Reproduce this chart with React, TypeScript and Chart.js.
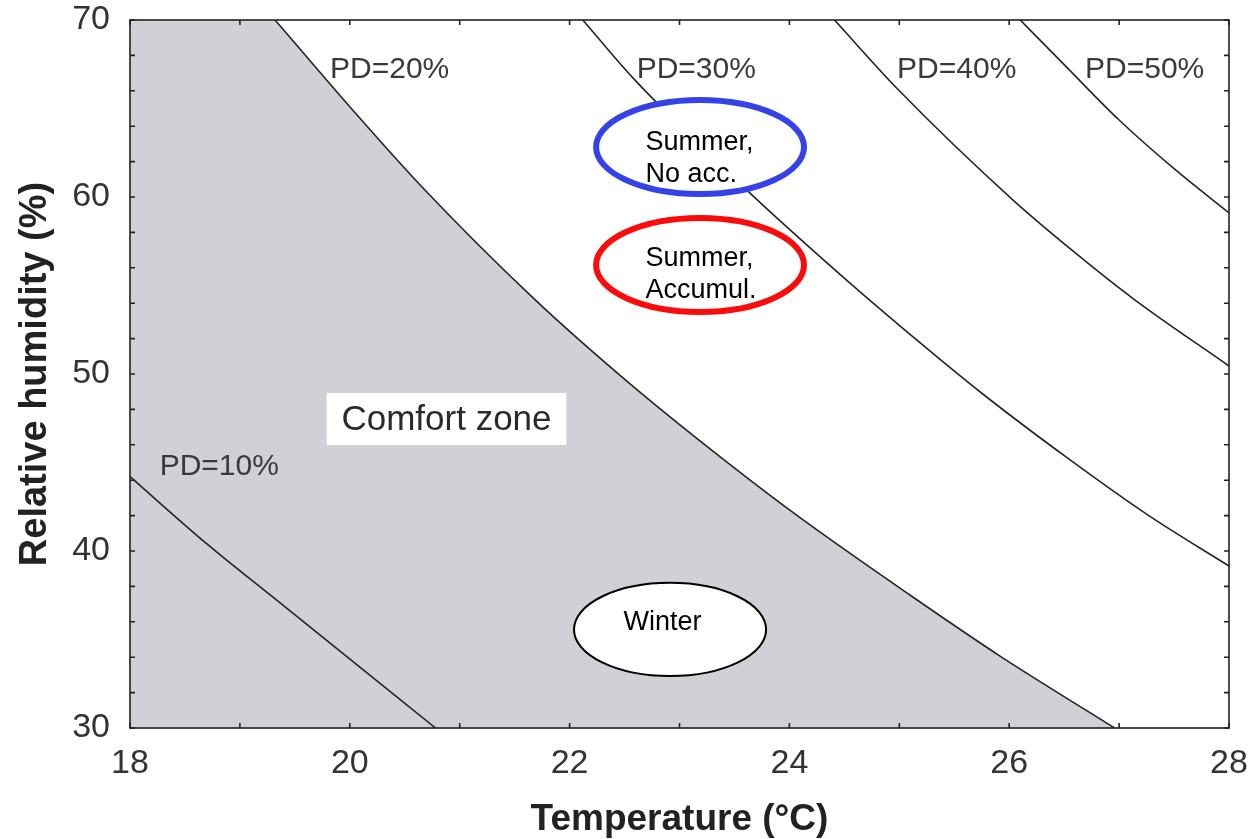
import React, { useEffect, useRef } from 'react';
import { Chart, registerables } from 'chart.js';

Chart.register(...registerables);

const FONT = "'Liberation Sans', Arial, Helvetica, sans-serif";

// Axis ticks (labels every 2 °C / 10 %, minor marks every 1 °C / 2 %)
const xTickValues = [18, 19, 20, 21, 22, 23, 24, 25, 26, 27, 28];
const yTickValues = [30, 32, 34, 36, 38, 40, 42, 44, 46, 48, 50, 52, 54, 56, 58, 60, 62, 64, 66, 68, 70];

// Iso-PD curves: temperature (°C) and relative humidity (%)
const pd10Temp = [18.0, 18.7, 19.4, 20.1, 20.78];
const pd10RH = [44.2, 40.4, 36.9, 33.4, 30.0];

const pd20Temp = [19.32, 20.0, 20.64, 21.67, 22.58, 23.49, 24.1, 25.1, 25.92, 26.96];
const pd20RH = [70.0, 65.1, 60.68, 54.29, 49.29, 44.74, 41.87, 37.5, 34.05, 30.0];

const pd30Temp = [22.12, 22.58, 23.61, 24.52, 25.0, 25.76, 26.52, 27.26, 28.0];
const pd30RH = [70.0, 66.7, 60.4, 55.3, 52.75, 48.87, 45.3, 42.04, 39.15];

const pd40Temp = [24.41, 25.0, 26.04, 26.61, 27.13, 28.0];
const pd40RH = [70.0, 66.0, 59.8, 56.8, 54.25, 50.45];

const pd50Temp = [26.1, 26.52, 27.0, 27.5, 28.0];
const pd50RH = [70.0, 67.35, 64.35, 61.6, 59.1];

// Text annotations (data coordinates)
const pdLabelText = ['PD=10%', 'PD=20%', 'PD=30%', 'PD=40%', 'PD=50%'];
const pdLabelTemp = [18.27, 19.82, 22.61, 24.98, 26.69];
const pdLabelRH = [44.75, 67.2, 67.2, 67.2, 67.2];

const GREY = 'rgb(207,209,215)';
const LINE = '#242424';

const pts = (xs: number[], ys: number[]) => xs.map((x, i) => ({ x, y: ys[i] }));

const annotationPlugin = {
  id: 'annotations',
  afterDatasetsDraw(chart: any) {
    const { ctx, chartArea: a, scales } = chart;
    const sx = scales.x;
    const sy = scales.y;
    const X = (v: number) => sx.getPixelForValue(v);
    const Y = (v: number) => sy.getPixelForValue(v);
    ctx.save();

    // Frame with inward ticks on all four sides
    ctx.strokeStyle = '#222';
    ctx.lineWidth = 1.6;
    ctx.strokeRect(a.left, a.top, a.right - a.left, a.bottom - a.top);
    const tl = 5;
    ctx.beginPath();
    xTickValues.forEach((v) => {
      const px = X(v);
      ctx.moveTo(px, a.bottom);
      ctx.lineTo(px, a.bottom - tl);
      ctx.moveTo(px, a.top);
      ctx.lineTo(px, a.top + tl);
    });
    yTickValues.forEach((v) => {
      const py = Y(v);
      ctx.moveTo(a.left, py);
      ctx.lineTo(a.left + tl, py);
      ctx.moveTo(a.right, py);
      ctx.lineTo(a.right - tl, py);
    });
    ctx.stroke();

    // PD labels
    ctx.fillStyle = '#3a3a3a';
    ctx.font = `30px ${FONT}`;
    ctx.textAlign = 'left';
    ctx.textBaseline = 'middle';
    pdLabelText.forEach((t, i) => {
      ctx.fillText(t, X(pdLabelTemp[i]), Y(pdLabelRH[i]));
    });

    // Comfort zone label box
    const bx0 = X(19.79), bx1 = X(21.97), by0 = Y(48.93), by1 = Y(45.99);
    ctx.fillStyle = '#ffffff';
    ctx.fillRect(bx0, by0, bx1 - bx0, by1 - by0);
    ctx.fillStyle = '#2a2a2a';
    ctx.font = `35px ${FONT}`;
    ctx.textAlign = 'center';
    ctx.fillText('Comfort zone', (bx0 + bx1) / 2, (by0 + by1) / 2 + 1);

    // Ellipses
    const ellipse = (cx: number, cy: number, rx: number, ry: number, color: string, lw: number) => {
      const pcx = X(cx), pcy = Y(cy);
      const prx = Math.abs(X(cx + rx) - pcx);
      const pry = Math.abs(Y(cy + ry) - pcy);
      ctx.beginPath();
      ctx.ellipse(pcx, pcy, prx, pry, 0, 0, Math.PI * 2);
      ctx.fillStyle = '#ffffff';
      ctx.fill();
      ctx.lineWidth = lw;
      ctx.strokeStyle = color;
      ctx.stroke();
    };
    const lines = (tx: number, ty: number, texts: string[]) => {
      ctx.fillStyle = '#000';
      ctx.font = `27px ${FONT}`;
      ctx.textAlign = 'left';
      ctx.textBaseline = 'middle';
      texts.forEach((t, i) => ctx.fillText(t, X(tx), Y(ty) + i * 32));
    };
    ellipse(23.187, 62.82, 0.946, 2.655, 'rgb(52,66,232)', 6);
    lines(22.69, 63.05, ['Summer,', 'No acc.']);
    ellipse(23.187, 56.16, 0.946, 2.655, 'rgb(250,12,12)', 6);
    lines(22.69, 56.55, ['Summer,', 'Accumul.']);
    ellipse(22.914, 35.57, 0.874, 2.63, '#000', 2);
    lines(22.49, 35.93, ['Winter']);

    ctx.restore();
  },
};

const zeroPad = (s: any) => {
  s.paddingTop = 0;
  s.paddingBottom = 0;
  s.paddingLeft = 0;
  s.paddingRight = 0;
};

export default function App() {
  const ref = useRef<HTMLCanvasElement | null>(null);

  useEffect(() => {
    if (!ref.current) return;
    const curve = (label: string, xs: number[], ys: number[]) => ({
      label,
      data: pts(xs, ys),
      borderColor: LINE,
      borderWidth: 1.6,
      pointRadius: 0,
      cubicInterpolationMode: 'monotone' as const,
      fill: false,
    });
    const chart = new Chart(ref.current, {
      type: 'line',
      data: {
        datasets: [
          curve('PD=10%', pd10Temp, pd10RH),
          curve('PD=20%', pd20Temp, pd20RH),
          curve('PD=30%', pd30Temp, pd30RH),
          curve('PD=40%', pd40Temp, pd40RH),
          curve('PD=50%', pd50Temp, pd50RH),
          {
            label: 'Comfort zone',
            data: pts(pd20Temp, pd20RH),
            borderWidth: 0,
            borderColor: 'rgba(0,0,0,0)',
            backgroundColor: GREY,
            pointRadius: 0,
            cubicInterpolationMode: 'monotone' as const,
            fill: 'start',
          },
          {
            label: 'Comfort zone (top)',
            data: pts([18, pd20Temp[0] + 0.012], [70, 70]),
            borderWidth: 0,
            borderColor: 'rgba(0,0,0,0)',
            backgroundColor: GREY,
            pointRadius: 0,
            fill: 'start',
          },
        ],
      },
      options: {
        animation: false,
        responsive: true,
        maintainAspectRatio: false,
        layout: { padding: { left: 0, top: 20, right: 24, bottom: 0 } },
        plugins: {
          legend: { display: false },
          tooltip: { enabled: false },
          filler: { drawTime: 'beforeDatasetsDraw' },
        },
        scales: {
          x: {
            type: 'linear',
            min: 18,
            max: 28,
            grid: { display: false, drawTicks: false, tickLength: 0 },
            border: { display: false },
            ticks: {
              stepSize: 2,
              autoSkip: false,
              maxRotation: 0,
              padding: 15,
              color: '#333',
              font: { family: FONT, size: 34 },
            },
            title: {
              display: true,
              text: 'Temperature (°C)',
              color: '#222',
              font: { family: FONT, size: 37, weight: 'bold', lineHeight: 1 },
              padding: { top: 0, bottom: 1 },
            },
            afterFit: (s: any) => {
              s.height = 111;
              zeroPad(s);
            },
          },
          y: {
            type: 'linear',
            min: 30,
            max: 70,
            grid: { display: false, drawTicks: false, tickLength: 0 },
            border: { display: false },
            ticks: {
              stepSize: 10,
              autoSkip: false,
              padding: 20,
              color: '#333',
              font: { family: FONT, size: 34 },
            },
            title: {
              display: true,
              text: 'Relative humidity (%)',
              color: '#222',
              font: { family: FONT, size: 38, weight: 'bold', lineHeight: 1 },
              padding: { top: 17, bottom: 0 },
            },
            afterFit: (s: any) => {
              s.width = 130;
              zeroPad(s);
            },
          },
        },
      },
      plugins: [annotationPlugin],
    });
    return () => chart.destroy();
  }, []);

  return (
    <div style={{ position: 'absolute', left: 0, top: 0, width: 1253, height: 839, background: '#fff' }}>
      <canvas ref={ref} />
    </div>
  );
}
